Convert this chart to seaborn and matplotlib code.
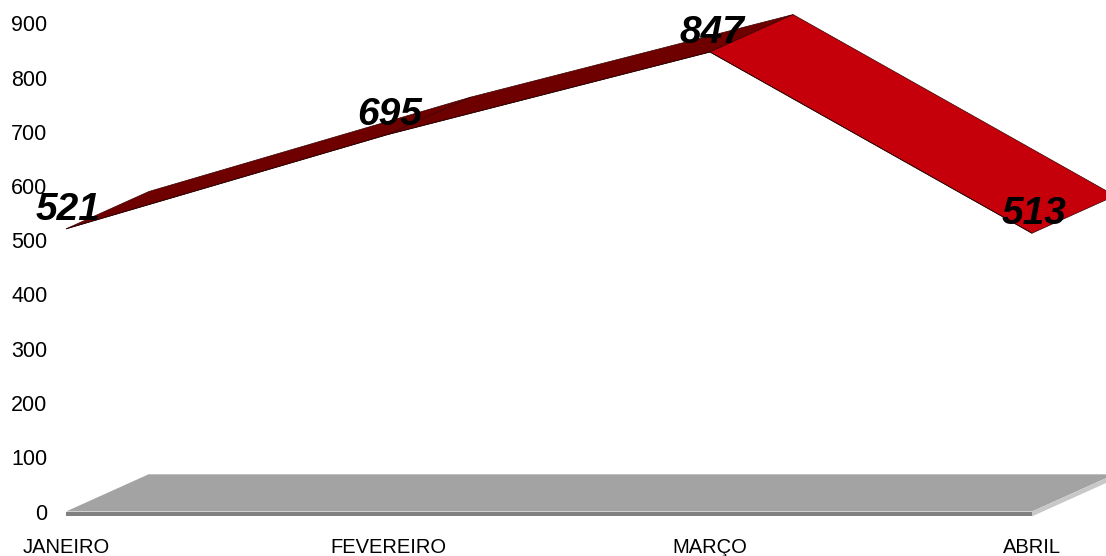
import pandas as pd
import seaborn as sns
import matplotlib.pyplot as plt

meses = ['JANEIRO', 'FEVEREIRO', 'MARÇO', 'ABRIL']
valores = [521, 695, 847, 513]
yticks = [0, 100, 200, 300, 400, 500, 600, 700, 800, 900]

# fake 3d depth, in data units
dx = 0.258
dy = 69
base = -9

sns.set_theme(style='white')
plt.rcParams['font.family'] = ['Liberation Sans', 'DejaVu Sans']

a = pd.DataFrame()
a['pos'] = range(len(meses))
a['valor'] = valores

f = plt.figure(figsize=(11.06, 5.56), dpi=100)
ax = f.add_axes([66/1106, (556-511.5)/556, 1040/1106, 511.5/556])
ax.set_xlim(0, 1040/322)
ax.set_ylim(0, 511.5/0.5425)

# floor
fim = a.pos.max()
ax.fill([0, fim, fim+dx, dx], [0, 0, dy, dy], color='#a3a3a3', lw=0, clip_on=False)
ax.fill([0, fim, fim, 0], [0, 0, base, base], color='#808080', lw=0, clip_on=False)
ax.fill([fim, fim+dx, fim+dx, fim], [base, dy+base, dy, 0], color='#c8c8c8', lw=0, clip_on=False)
ax.plot([dx, fim+dx], [dy, dy], color='#c4c4c4', lw=0.6)

# ribbon
cores = ['#6e0000', '#6e0000', '#c6000a']
for i in range(len(valores)-1):
    x0, x1 = a.pos[i], a.pos[i+1]
    y0, y1 = a.valor[i], a.valor[i+1]
    ax.fill([x0, x1, x1+dx, x0+dx], [y0, y1, y1+dy, y0+dy],
            facecolor=cores[i], edgecolor='#3a0000', lw=0.5, clip_on=False)

sns.lineplot(data=a, x='pos', y='valor', color='#2a0000', lw=0.6, ax=ax, sort=False)

for i in range(len(valores)):
    ax.annotate(str(valores[i]), (a.pos[i], a.valor[i]), xytext=(1.5, 13.8),
                textcoords='offset points', ha='center', va='center',
                fontsize=28, fontweight='bold', fontstyle='italic', color='black')

ax.set_xticks(list(a.pos))
ax.set_xticklabels(meses, fontsize=14.5, color='black')
ax.set_yticks(yticks)
ax.set_yticklabels([str(v) for v in yticks], fontsize=15.5, color='black')
ax.tick_params(axis='x', length=0, pad=19)
ax.tick_params(axis='y', length=0, pad=13.5)
ax.set_xlabel('')
ax.set_ylabel('')
sns.despine(ax=ax, left=True, bottom=True)

f.savefig('out.png', dpi=100)
